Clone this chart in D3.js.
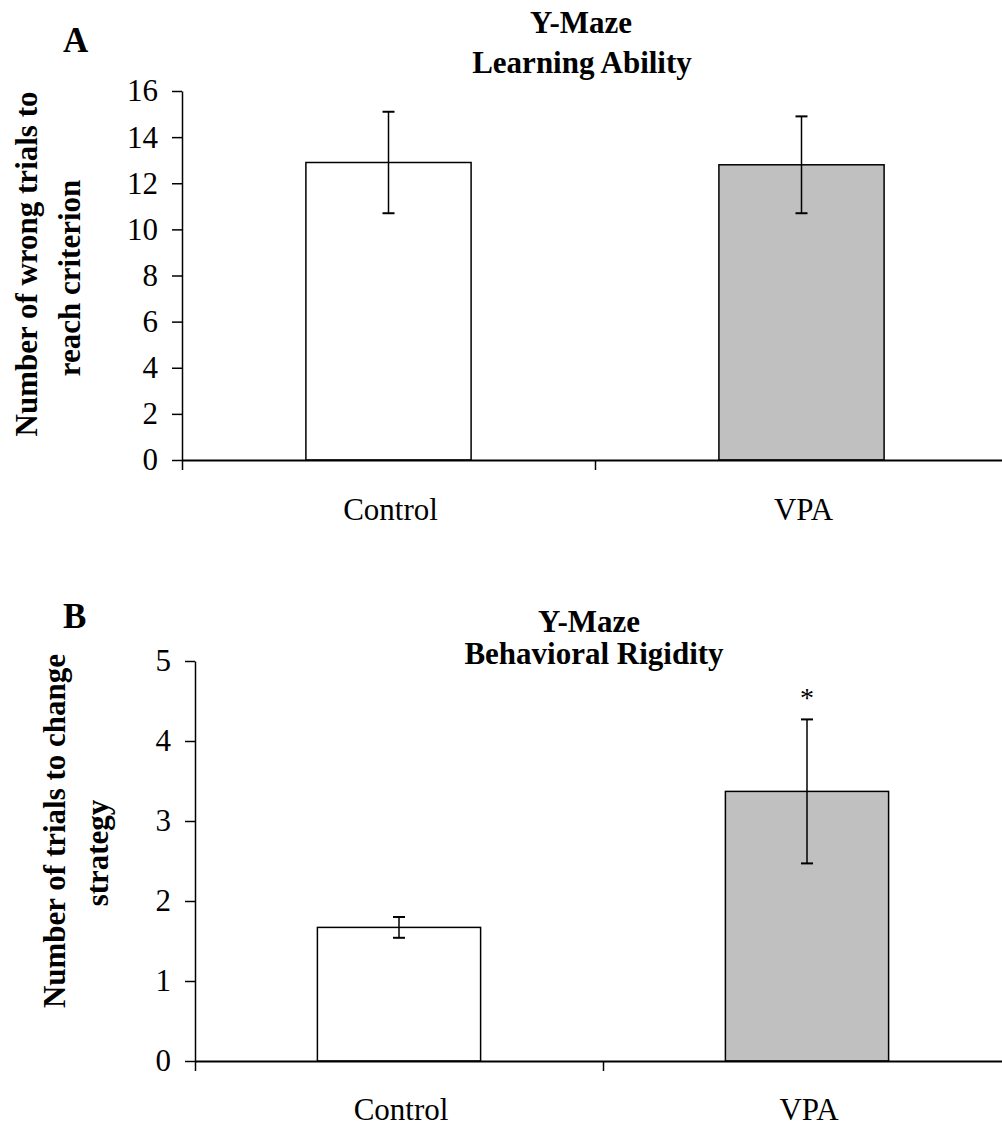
<!DOCTYPE html>
<html>
<head>
<meta charset="utf-8">
<script src="https://cdn.jsdelivr.net/npm/d3@7"></script>
<style>
  html, body { margin: 0; padding: 0; background: #fff; }
  svg { display: block; }
  text { font-family: "Liberation Serif", "Times New Roman", serif; fill: #000; }
</style>
</head>
<body>
<svg id="chart" width="1002" height="1129"></svg>
<script>
// ---------- data ----------
const categories = ["Control", "VPA"];
const barColors = ["#ffffff", "#c0c0c0"];

// Panel A: Learning Ability
const learningMeans = [12.9, 12.8];
const learningErrors = [2.2, 2.1];
const learningTicks = [0, 2, 4, 6, 8, 10, 12, 14, 16];

// Panel B: Behavioral Rigidity
const rigidityMeans = [1.67, 3.37];
const rigidityErrors = [0.13, 0.9];
const rigidityTicks = [0, 1, 2, 3, 4, 5];
const rigiditySignificance = ["", "*"];

const svg = d3.select("#chart");

function drawPanel(cfg) {
  const g = svg.append("g");
  const y = d3.scaleLinear().domain(cfg.yDomain).range([cfg.bottom, cfg.top]);
  const x = d3.scaleBand().domain(categories).range([cfg.left, cfg.right])
    .paddingInner(0.6).paddingOuter(0.3);

  // bars
  g.selectAll("rect.bar").data(cfg.means).enter().append("rect")
    .attr("class", "bar")
    .attr("x", (d, i) => x(categories[i]))
    .attr("y", d => y(d))
    .attr("width", x.bandwidth())
    .attr("height", d => y(0) - y(d))
    .attr("fill", (d, i) => barColors[i])
    .attr("stroke", "#000")
    .attr("stroke-width", 1.5);

  // error bars
  const cap = 6;
  cfg.means.forEach((m, i) => {
    const cx = x(categories[i]) + x.bandwidth() / 2;
    const e = cfg.errors[i];
    g.append("line").attr("x1", cx).attr("x2", cx)
      .attr("y1", y(m + e)).attr("y2", y(m - e))
      .attr("stroke", "#000").attr("stroke-width", 1.5);
    [m + e, m - e].forEach(v => {
      g.append("line").attr("x1", cx - cap).attr("x2", cx + cap)
        .attr("y1", y(v)).attr("y2", y(v))
        .attr("stroke", "#000").attr("stroke-width", 2);
    });
    if (cfg.sig && cfg.sig[i]) {
      g.append("text").attr("x", cx).attr("y", y(m + e) - 12)
        .attr("text-anchor", "middle").attr("font-size", 28)
        .text(cfg.sig[i]);
    }
  });

  // y axis
  const yAxis = d3.axisLeft(y).tickValues(cfg.ticks).tickSize(10)
    .tickSizeOuter(0).tickPadding(cfg.tickPad).tickFormat(d3.format("d"));
  const ya = g.append("g").attr("transform", `translate(${cfg.left},0)`).call(yAxis);
  ya.selectAll("text").attr("font-size", 31)
    .style("font-family", '"Liberation Serif", "Times New Roman", serif');
  ya.select(".domain").attr("stroke-width", 1.5);
  ya.selectAll(".tick line").attr("stroke-width", 1.5);

  // x axis (boundary ticks)
  const xb = d3.scaleLinear().domain([0, categories.length]).range([cfg.left, cfg.right]);
  const xAxis = d3.axisBottom(xb).tickValues(d3.range(categories.length + 1))
    .tickSize(10).tickSizeOuter(0).tickFormat("");
  const xa = g.append("g").attr("transform", `translate(0,${cfg.bottom})`).call(xAxis);
  xa.select(".domain").attr("stroke-width", 2);
  xa.selectAll(".tick line").attr("stroke-width", 1.5);

  // category labels
  g.selectAll("text.cat").data(categories).enter().append("text")
    .attr("class", "cat")
    .attr("x", d => x(d) + x.bandwidth() / 2 + 2)
    .attr("y", cfg.bottom + cfg.catOffset)
    .attr("text-anchor", "middle").attr("font-size", 31)
    .text(d => d);

  // titles
  cfg.titles.forEach(t => {
    g.append("text").attr("x", t.x).attr("y", t.y)
      .attr("text-anchor", "middle").attr("font-size", 31)
      .attr("font-weight", "bold").text(t.text);
  });

  // y label
  cfg.ylabel.forEach(t => {
    g.append("text").attr("transform", `translate(${t.x},${t.y}) rotate(-90)`)
      .attr("text-anchor", "middle").attr("font-size", 31)
      .attr("font-weight", "bold").text(t.text);
  });

  // panel letter
  g.append("text").attr("x", cfg.letter.x).attr("y", cfg.letter.y)
    .attr("font-size", 35).attr("font-weight", "bold").text(cfg.letter.text);
}

drawPanel({
  yDomain: [0, 16], top: 91, bottom: 460, left: 182, right: 1008,
  means: learningMeans, errors: learningErrors, ticks: learningTicks, tickPad: 14,
  catOffset: 60,
  titles: [{ text: "Y-Maze", x: 581, y: 33 }, { text: "Learning Ability", x: 582, y: 73 }],
  ylabel: [{ text: "Number of wrong trials to", x: 37, y: 264 },
           { text: "reach criterion", x: 80, y: 278 }],
  letter: { text: "A", x: 63, y: 52 }
});

drawPanel({
  yDomain: [0, 5], top: 661, bottom: 1061, left: 195, right: 1011,
  means: rigidityMeans, errors: rigidityErrors, ticks: rigidityTicks, tickPad: 14,
  sig: rigiditySignificance,
  catOffset: 59,
  titles: [{ text: "Y-Maze", x: 589, y: 632 }, { text: "Behavioral Rigidity", x: 594, y: 664 }],
  ylabel: [{ text: "Number of trials to change", x: 65, y: 831 },
           { text: "strategy", x: 108, y: 853 }],
  letter: { text: "B", x: 63, y: 628 }
});
</script>
</body>
</html>
